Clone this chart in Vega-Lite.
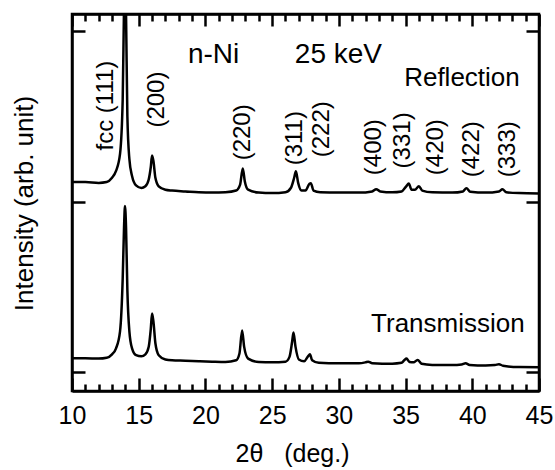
{
  "$schema": "https://vega.github.io/schema/vega-lite/v6.json",
  "autosize": {"type": "none"},
  "padding": {"left": 72, "top": 14, "right": 16, "bottom": 79},
  "width": 467,
  "height": 377,
  "background": "white",
  "config": {
    "view": {"stroke": "black", "strokeWidth": 2.5},
    "font": "Liberation Sans",
    "axis": {
      "domainColor": "black", "domainWidth": 2.5, "tickColor": "black", "tickWidth": 2.5,
      "grid": false, "labelFont": "Liberation Sans", "titleFont": "Liberation Sans",
      "labelColor": "black", "titleColor": "black", "titleFontWeight": "normal"
    }
  },
  "datasets": {
    "transmission": [
      {"x": 10.0, "I": 8.2}, {"x": 11.0, "I": 8.2}, {"x": 12.0, "I": 8.0}, {"x": 12.6, "I": 8.5},
      {"x": 13.0, "I": 10.5}, {"x": 13.3, "I": 14}, {"x": 13.6, "I": 24}, {"x": 13.8, "I": 55},
      {"x": 13.9, "I": 85}, {"x": 13.97, "I": 97.4}, {"x": 14.05, "I": 85}, {"x": 14.15, "I": 48},
      {"x": 14.3, "I": 24}, {"x": 14.5, "I": 14}, {"x": 14.8, "I": 10}, {"x": 15.2, "I": 9.3},
      {"x": 15.5, "I": 10.5}, {"x": 15.75, "I": 15}, {"x": 15.9, "I": 25}, {"x": 16.0, "I": 34.4},
      {"x": 16.1, "I": 30}, {"x": 16.25, "I": 17}, {"x": 16.5, "I": 10}, {"x": 17.0, "I": 7.5},
      {"x": 17.5, "I": 7}, {"x": 18.5, "I": 6.8}, {"x": 19.5, "I": 6.5}, {"x": 20.5, "I": 6.2},
      {"x": 21.5, "I": 6.0}, {"x": 22.3, "I": 7}, {"x": 22.55, "I": 11}, {"x": 22.75, "I": 24.5},
      {"x": 22.9, "I": 15}, {"x": 23.2, "I": 8}, {"x": 24.0, "I": 6}, {"x": 25.0, "I": 5.8},
      {"x": 26.0, "I": 6.2}, {"x": 26.3, "I": 9}, {"x": 26.5, "I": 18}, {"x": 26.6, "I": 23.3},
      {"x": 26.75, "I": 15}, {"x": 27.0, "I": 7.5}, {"x": 27.4, "I": 6.5}, {"x": 27.7, "I": 9.5},
      {"x": 27.83, "I": 10.5}, {"x": 28.0, "I": 7}, {"x": 28.5, "I": 5.5}, {"x": 30.0, "I": 5.2},
      {"x": 31.5, "I": 5.2}, {"x": 32.0, "I": 5.8}, {"x": 32.2, "I": 6.2}, {"x": 32.5, "I": 5.3},
      {"x": 34.0, "I": 5.0}, {"x": 34.7, "I": 5.5}, {"x": 34.9, "I": 7}, {"x": 35.07, "I": 8.0},
      {"x": 35.3, "I": 6}, {"x": 35.6, "I": 5.8}, {"x": 35.9, "I": 7.2}, {"x": 36.2, "I": 5},
      {"x": 37.0, "I": 4.3}, {"x": 38.5, "I": 4.2}, {"x": 39.2, "I": 4.5}, {"x": 39.5, "I": 5.2},
      {"x": 39.8, "I": 4.3}, {"x": 41.0, "I": 4.0}, {"x": 41.7, "I": 4.2}, {"x": 42.0, "I": 4.7},
      {"x": 42.3, "I": 3.8}, {"x": 43.5, "I": 3.0}, {"x": 45.0, "I": 2.9}
    ],
    "reflection": [
      {"x": 10.0, "I": 111.5}, {"x": 11.0, "I": 111.5}, {"x": 12.0, "I": 111.0}, {"x": 12.6, "I": 111.5},
      {"x": 13.0, "I": 114}, {"x": 13.3, "I": 118}, {"x": 13.6, "I": 128}, {"x": 13.8, "I": 160},
      {"x": 13.9, "I": 215}, {"x": 13.97, "I": 240}, {"x": 14.05, "I": 210}, {"x": 14.15, "I": 150},
      {"x": 14.3, "I": 125}, {"x": 14.5, "I": 115}, {"x": 14.8, "I": 109.5}, {"x": 15.2, "I": 108},
      {"x": 15.5, "I": 109}, {"x": 15.75, "I": 113}, {"x": 15.9, "I": 120}, {"x": 16.0, "I": 127},
      {"x": 16.1, "I": 124}, {"x": 16.25, "I": 114}, {"x": 16.5, "I": 109}, {"x": 17.0, "I": 107},
      {"x": 17.5, "I": 106.5}, {"x": 18.5, "I": 106}, {"x": 19.5, "I": 105.5}, {"x": 20.5, "I": 105.3},
      {"x": 21.5, "I": 105.5}, {"x": 22.3, "I": 106.5}, {"x": 22.6, "I": 110}, {"x": 22.8, "I": 119.5},
      {"x": 22.95, "I": 112}, {"x": 23.2, "I": 107}, {"x": 24.0, "I": 105.3}, {"x": 25.0, "I": 105},
      {"x": 26.0, "I": 105.5}, {"x": 26.4, "I": 108}, {"x": 26.65, "I": 114}, {"x": 26.78, "I": 117.8},
      {"x": 26.95, "I": 111}, {"x": 27.2, "I": 106.5}, {"x": 27.5, "I": 106.5}, {"x": 27.8, "I": 110.5},
      {"x": 27.9, "I": 110.8}, {"x": 28.1, "I": 106.5}, {"x": 28.6, "I": 105.5}, {"x": 30.0, "I": 105.3},
      {"x": 31.5, "I": 105.3}, {"x": 32.5, "I": 106}, {"x": 32.8, "I": 107.3}, {"x": 33.1, "I": 106},
      {"x": 34.0, "I": 105.5}, {"x": 34.7, "I": 106}, {"x": 35.05, "I": 109}, {"x": 35.24, "I": 110.6},
      {"x": 35.45, "I": 107}, {"x": 35.7, "I": 107}, {"x": 36.0, "I": 109}, {"x": 36.25, "I": 106.5},
      {"x": 37.0, "I": 105.5}, {"x": 38.5, "I": 105.3}, {"x": 39.3, "I": 106}, {"x": 39.56, "I": 107.9},
      {"x": 39.85, "I": 105.8}, {"x": 41.0, "I": 105.3}, {"x": 42.0, "I": 106}, {"x": 42.26, "I": 107.3},
      {"x": 42.55, "I": 105.5}, {"x": 43.5, "I": 105}, {"x": 45.0, "I": 104.8}
    ],
    "peaks": [
      {"x": 12.55, "y": 130, "t": "fcc (111)"},
      {"x": 16.37, "y": 143.4, "t": "(200)"},
      {"x": 22.8, "y": 124.2, "t": "(220)"},
      {"x": 26.7, "y": 121.3, "t": "(311)"},
      {"x": 28.73, "y": 126, "t": "(222)"},
      {"x": 32.6, "y": 115.5, "t": "(400)"},
      {"x": 34.8, "y": 119.5, "t": "(331)"},
      {"x": 37.3, "y": 115.5, "t": "(420)"},
      {"x": 40.0, "y": 114.3, "t": "(422)"},
      {"x": 42.7, "y": 114.3, "t": "(333)"}
    ],
    "title1": [
      {"x": 18.69, "y": 181.3, "t": "n-Ni"},
      {"x": 26.7, "y": 181.3, "t": "25 keV"}
    ],
    "title2": [
      {"x": 43.56, "y": 167.9, "t": "Reflection"},
      {"x": 43.93, "y": 23.3, "t": "Transmission"}
    ]
  },
  "resolve": {"axis": {"x": "independent", "y": "independent"}},
  "layer": [
    {
      "data": {"name": "transmission"},
      "mark": {"type": "line", "color": "black", "strokeWidth": 2.5, "clip": true, "interpolate": "monotone"},
      "encoding": {
        "x": {"field": "x", "type": "quantitative",
              "scale": {"domain": [10, 45], "nice": false, "zero": false},
              "axis": {"orient": "bottom", "values": [10, 15, 20, 25, 30, 35, 40, 45], "tickSize": -13,
                       "labelFontSize": 25, "labelPadding": 25, "labelFlush": false, "labelOverlap": false,
                       "title": "2θ\u00a0\u00a0\u00a0(deg.)", "titleFontSize": 25, "titleX": 220, "titleY": 70,
                       "titleBaseline": "alphabetic", "titleAlign": "center"}},
        "y": {"field": "I", "type": "quantitative",
              "scale": {"domain": [-11, 210], "nice": false, "zero": false},
              "axis": {"orient": "left", "values": [0, 100, 200], "tickSize": -13, "labels": false,
                       "title": "Intensity (arb. unit)", "titleFontSize": 26, "titleAngle": 270,
                       "titleX": -40, "titleY": 189, "titleBaseline": "alphabetic", "titleAlign": "center"}}
      }
    },
    {
      "data": {"name": "reflection"},
      "mark": {"type": "line", "color": "black", "strokeWidth": 2.5, "clip": true, "interpolate": "monotone"},
      "encoding": {
        "x": {"field": "x", "type": "quantitative",
              "axis": {"orient": "top", "values": [10, 15, 20, 25, 30, 35, 40, 45], "tickSize": -12,
                       "labels": false, "title": null}},
        "y": {"field": "I", "type": "quantitative",
              "axis": {"orient": "right", "values": [0, 100, 200], "tickSize": -13, "labels": false, "title": null}}
      }
    },
    {
      "data": {"name": "peaks"},
      "mark": {"type": "text", "angle": 270, "align": "left", "baseline": "middle", "fontSize": 24, "font": "Liberation Sans", "color": "black"},
      "encoding": {
        "x": {"field": "x", "type": "quantitative",
              "axis": {"orient": "bottom", "values": [11, 12, 13, 14, 16, 17, 18, 19, 21, 22, 23, 24, 26, 27, 28, 29, 31, 32, 33, 34, 36, 37, 38, 39, 41, 42, 43, 44],
                       "tickSize": -7, "labels": false, "domain": false, "title": null}},
        "y": {"field": "y", "type": "quantitative", "axis": null},
        "text": {"field": "t"}
      }
    },
    {
      "data": {"name": "title1"},
      "mark": {"type": "text", "align": "left", "baseline": "alphabetic", "fontSize": 28, "font": "Liberation Sans", "color": "black"},
      "encoding": {
        "x": {"field": "x", "type": "quantitative",
              "axis": {"orient": "top", "values": [11, 12, 13, 14, 16, 17, 18, 19, 21, 22, 23, 24, 26, 27, 28, 29, 31, 32, 33, 34, 36, 37, 38, 39, 41, 42, 43, 44],
                       "tickSize": -7, "labels": false, "domain": false, "title": null}},
        "y": {"field": "y", "type": "quantitative", "axis": null},
        "text": {"field": "t"}
      }
    },
    {
      "data": {"name": "title2"},
      "mark": {"type": "text", "align": "right", "baseline": "alphabetic", "fontSize": 26, "font": "Liberation Sans", "color": "black"},
      "encoding": {
        "x": {"field": "x", "type": "quantitative", "axis": null},
        "y": {"field": "y", "type": "quantitative", "axis": null},
        "text": {"field": "t"}
      }
    }
  ]
}
